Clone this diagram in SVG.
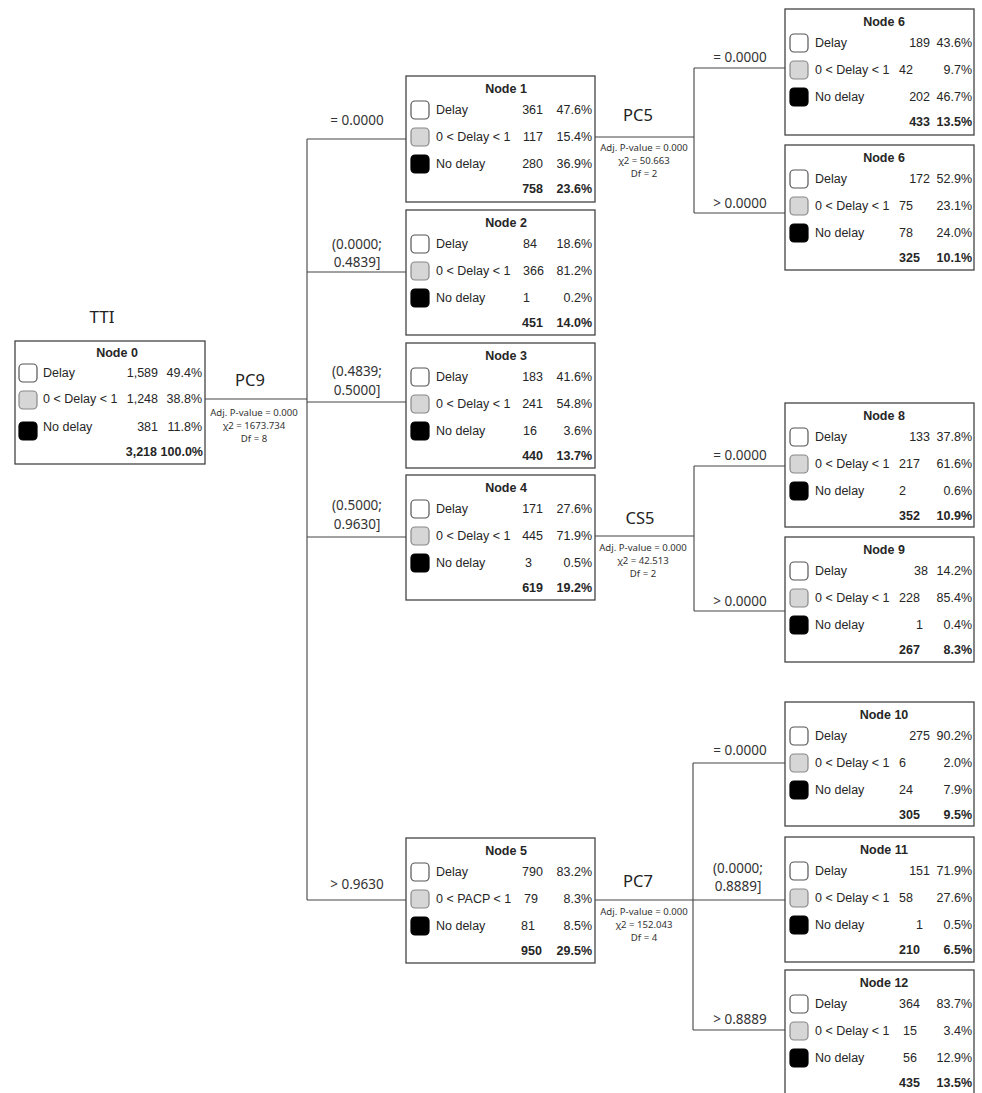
<svg xmlns="http://www.w3.org/2000/svg" width="982" height="1093" viewBox="0 0 982 1093">
<style>
.box{fill:#fff;stroke:#444;stroke-width:1.3}
.ic{stroke-width:1.2}
.w{fill:#fff;stroke:#555}
.g{fill:#d6d6d6;stroke:#888}
.b{fill:#000;stroke:#000}
text{font-family:"Liberation Sans",Arial,sans-serif;fill:#262626}
.t{font-size:12.5px}
.tb{font-size:12.5px;font-weight:bold}
.title{font-size:12.5px;font-weight:bold;text-anchor:middle}
.e{text-anchor:end}
.c{font-family:"Noto Sans","Open Sans",sans-serif;font-size:13.5px;text-anchor:middle;fill:#333}
.pc{font-family:"Noto Sans","Open Sans",sans-serif;font-size:16.5px;text-anchor:middle;fill:#222}
.adj{font-family:"Noto Sans","Open Sans",sans-serif;font-size:9.6px;text-anchor:middle;fill:#333}
.ln{fill:none;stroke:#444;stroke-width:1.1}
</style>

<g id="connectors">
<path class="ln" d="M205 399H307M307 139V900M307 139H406M307 272H406M307 402H406M307 537H406M307 900H406"/>
<path class="ln" d="M595 137H694M694 68V213M694 68H785M694 213H785"/>
<path class="ln" d="M595 536H694M694 466V611M694 466H785M694 611H785"/>
<path class="ln" d="M595 900H693M693 763V1030M693 763H785M693 900H785M693 1030H785"/>
</g>

<g id="labels">
<text class="pc" x="102" y="323" style="font-size:17px">TTI</text>
<text class="pc" x="250" y="386">PC9</text>
<text class="adj" x="254" y="416">Adj. P-value = 0.000</text>
<text class="adj" x="254" y="429">χ2 = 1673.734</text>
<text class="adj" x="254" y="442">Df = 8</text>

<text class="c" x="357" y="125">= 0.0000</text>
<text class="c" x="357" y="249">(0.0000;</text>
<text class="c" x="357" y="267">0.4839]</text>
<text class="c" x="357" y="376">(0.4839;</text>
<text class="c" x="357" y="395">0.5000]</text>
<text class="c" x="357" y="510">(0.5000;</text>
<text class="c" x="357" y="529">0.9630]</text>
<text class="c" x="357" y="889">&gt; 0.9630</text>

<text class="pc" x="638" y="121">PC5</text>
<text class="adj" x="644" y="151">Adj. P-value = 0.000</text>
<text class="adj" x="644" y="164">χ2 = 50.663</text>
<text class="adj" x="644" y="177">Df = 2</text>
<text class="c" x="740" y="62">= 0.0000</text>
<text class="c" x="740" y="208">&gt; 0.0000</text>

<text class="pc" x="640" y="524">CS5</text>
<text class="adj" x="643" y="551">Adj. P-value = 0.000</text>
<text class="adj" x="643" y="564">χ2 = 42.513</text>
<text class="adj" x="643" y="577">Df = 2</text>
<text class="c" x="740" y="460">= 0.0000</text>
<text class="c" x="740" y="606">&gt; 0.0000</text>

<text class="pc" x="638" y="887">PC7</text>
<text class="adj" x="644" y="915">Adj. P-value = 0.000</text>
<text class="adj" x="644" y="928">χ2 = 152.043</text>
<text class="adj" x="644" y="941">Df = 4</text>
<text class="c" x="740" y="755">= 0.0000</text>
<text class="c" x="738" y="873">(0.0000;</text>
<text class="c" x="738" y="891">0.8889]</text>
<text class="c" x="740" y="1024">&gt; 0.8889</text>
</g>

<g id="node0">
<rect class="box" x="15" y="341" width="190" height="123"/>
<text class="title" x="117" y="357">Node 0</text>
<rect class="ic w" x="19" y="364" width="18" height="18" rx="4"/>
<rect class="ic g" x="19" y="391" width="18" height="18" rx="4"/>
<rect class="ic b" x="19" y="422" width="18" height="18" rx="4"/>
<text class="t" x="43" y="377">Delay</text>
<text class="t" x="43" y="403">0 &lt; Delay &lt; 1</text>
<text class="t" x="43" y="431">No delay</text>
<text class="t e" x="158" y="377">1,589</text>
<text class="t e" x="158" y="403">1,248</text>
<text class="t e" x="158" y="431">381</text>
<text class="tb e" x="157" y="456">3,218</text>
<text class="t e" x="202" y="377">49.4%</text>
<text class="t e" x="202" y="403">38.8%</text>
<text class="t e" x="202" y="431">11.8%</text>
<text class="tb e" x="203" y="456">100.0%</text>
</g>

<g id="node1">
<rect class="box" x="406" y="76" width="189" height="126"/>
<text class="title" x="506" y="93">Node 1</text>
<rect class="ic w" x="411" y="101" width="18" height="18" rx="4"/>
<rect class="ic g" x="411" y="128" width="18" height="18" rx="4"/>
<rect class="ic b" x="411" y="155" width="18" height="18" rx="4"/>
<text class="t" x="436" y="114">Delay</text>
<text class="t" x="436" y="141">0 &lt; Delay &lt; 1</text>
<text class="t" x="436" y="168">No delay</text>
<text class="t e" x="543" y="114">361</text>
<text class="t e" x="543" y="141">117</text>
<text class="t e" x="543" y="168">280</text>
<text class="tb e" x="543" y="193">758</text>
<text class="t e" x="592" y="114">47.6%</text>
<text class="t e" x="592" y="141">15.4%</text>
<text class="t e" x="592" y="168">36.9%</text>
<text class="tb e" x="592" y="193">23.6%</text>
</g>

<g id="node2">
<rect class="box" x="406" y="210" width="189" height="125"/>
<text class="title" x="506" y="227">Node 2</text>
<rect class="ic w" x="411" y="235" width="18" height="18" rx="4"/>
<rect class="ic g" x="411" y="262" width="18" height="18" rx="4"/>
<rect class="ic b" x="411" y="289" width="18" height="18" rx="4"/>
<text class="t" x="436" y="248">Delay</text>
<text class="t" x="436" y="275">0 &lt; Delay &lt; 1</text>
<text class="t" x="436" y="302">No delay</text>
<text class="t" x="523" y="248">84</text>
<text class="t" x="523" y="275">366</text>
<text class="t" x="523" y="302">1</text>
<text class="tb" x="522" y="327">451</text>
<text class="t e" x="592" y="248">18.6%</text>
<text class="t e" x="592" y="275">81.2%</text>
<text class="t e" x="592" y="302">0.2%</text>
<text class="tb e" x="592" y="327">14.0%</text>
</g>

<g id="node3">
<rect class="box" x="406" y="343" width="189" height="125"/>
<text class="title" x="506" y="360">Node 3</text>
<rect class="ic w" x="411" y="368" width="18" height="18" rx="4"/>
<rect class="ic g" x="411" y="395" width="18" height="18" rx="4"/>
<rect class="ic b" x="411" y="422" width="18" height="18" rx="4"/>
<text class="t" x="436" y="381">Delay</text>
<text class="t" x="436" y="408">0 &lt; Delay &lt; 1</text>
<text class="t" x="436" y="435">No delay</text>
<text class="t e" x="543" y="381">183</text>
<text class="t e" x="543" y="408">241</text>
<text class="t" x="523" y="435">16</text>
<text class="tb e" x="543" y="460">440</text>
<text class="t e" x="592" y="381">41.6%</text>
<text class="t e" x="592" y="408">54.8%</text>
<text class="t e" x="592" y="435">3.6%</text>
<text class="tb e" x="592" y="460">13.7%</text>
</g>

<g id="node4">
<rect class="box" x="406" y="475" width="189" height="125"/>
<text class="title" x="506" y="492">Node 4</text>
<rect class="ic w" x="411" y="500" width="18" height="18" rx="4"/>
<rect class="ic g" x="411" y="527" width="18" height="18" rx="4"/>
<rect class="ic b" x="411" y="554" width="18" height="18" rx="4"/>
<text class="t" x="436" y="513">Delay</text>
<text class="t" x="436" y="540">0 &lt; Delay &lt; 1</text>
<text class="t" x="436" y="567">No delay</text>
<text class="t e" x="543" y="513">171</text>
<text class="t e" x="543" y="540">445</text>
<text class="t" x="525" y="567">3</text>
<text class="tb e" x="543" y="592">619</text>
<text class="t e" x="592" y="513">27.6%</text>
<text class="t e" x="592" y="540">71.9%</text>
<text class="t e" x="592" y="567">0.5%</text>
<text class="tb e" x="592" y="592">19.2%</text>
</g>

<g id="node5">
<rect class="box" x="406" y="838" width="189" height="125"/>
<text class="title" x="506" y="855">Node 5</text>
<rect class="ic w" x="411" y="863" width="18" height="18" rx="4"/>
<rect class="ic g" x="411" y="890" width="18" height="18" rx="4"/>
<rect class="ic b" x="411" y="917" width="18" height="18" rx="4"/>
<text class="t" x="436" y="876">Delay</text>
<text class="t" x="436" y="903">0 &lt; PACP &lt; 1</text>
<text class="t" x="436" y="930">No delay</text>
<text class="t" x="522" y="876">790</text>
<text class="t" x="524" y="903">79</text>
<text class="t" x="521" y="930">81</text>
<text class="tb" x="521" y="955">950</text>
<text class="t e" x="592" y="876">83.2%</text>
<text class="t e" x="592" y="903">8.3%</text>
<text class="t e" x="592" y="930">8.5%</text>
<text class="tb e" x="592" y="955">29.5%</text>
</g>

<g id="node6a">
<rect class="box" x="785" y="9" width="189" height="126"/>
<text class="title" x="884" y="26">Node 6</text>
<rect class="ic w" x="790" y="34" width="18" height="18" rx="4"/>
<rect class="ic g" x="790" y="61" width="18" height="18" rx="4"/>
<rect class="ic b" x="790" y="88" width="18" height="18" rx="4"/>
<text class="t" x="815" y="47">Delay</text>
<text class="t" x="815" y="74">0 &lt; Delay &lt; 1</text>
<text class="t" x="815" y="101">No delay</text>
<text class="t e" x="930" y="47">189</text>
<text class="t" x="899" y="74">42</text>
<text class="t e" x="930" y="101">202</text>
<text class="tb e" x="930" y="126">433</text>
<text class="t e" x="972" y="47">43.6%</text>
<text class="t e" x="972" y="74">9.7%</text>
<text class="t e" x="972" y="101">46.7%</text>
<text class="tb e" x="972" y="126">13.5%</text>
</g>

<g id="node6b">
<rect class="box" x="785" y="145" width="189" height="125"/>
<text class="title" x="884" y="162">Node 6</text>
<rect class="ic w" x="790" y="170" width="18" height="18" rx="4"/>
<rect class="ic g" x="790" y="197" width="18" height="18" rx="4"/>
<rect class="ic b" x="790" y="224" width="18" height="18" rx="4"/>
<text class="t" x="815" y="183">Delay</text>
<text class="t" x="815" y="210">0 &lt; Delay &lt; 1</text>
<text class="t" x="815" y="237">No delay</text>
<text class="t e" x="930" y="183">172</text>
<text class="t" x="899" y="210">75</text>
<text class="t" x="899" y="237">78</text>
<text class="tb" x="899" y="262">325</text>
<text class="t e" x="972" y="183">52.9%</text>
<text class="t e" x="972" y="210">23.1%</text>
<text class="t e" x="972" y="237">24.0%</text>
<text class="tb e" x="972" y="262">10.1%</text>
</g>

<g id="node8">
<rect class="box" x="785" y="403" width="189" height="124"/>
<text class="title" x="884" y="420">Node 8</text>
<rect class="ic w" x="790" y="428" width="18" height="18" rx="4"/>
<rect class="ic g" x="790" y="455" width="18" height="18" rx="4"/>
<rect class="ic b" x="790" y="482" width="18" height="18" rx="4"/>
<text class="t" x="815" y="441">Delay</text>
<text class="t" x="815" y="468">0 &lt; Delay &lt; 1</text>
<text class="t" x="815" y="495">No delay</text>
<text class="t e" x="930" y="441">133</text>
<text class="t" x="899" y="468">217</text>
<text class="t" x="899" y="495">2</text>
<text class="tb" x="899" y="520">352</text>
<text class="t e" x="972" y="441">37.8%</text>
<text class="t e" x="972" y="468">61.6%</text>
<text class="t e" x="972" y="495">0.6%</text>
<text class="tb e" x="972" y="520">10.9%</text>
</g>

<g id="node9">
<rect class="box" x="785" y="537" width="189" height="125"/>
<text class="title" x="884" y="554">Node 9</text>
<rect class="ic w" x="790" y="562" width="18" height="18" rx="4"/>
<rect class="ic g" x="790" y="589" width="18" height="18" rx="4"/>
<rect class="ic b" x="790" y="616" width="18" height="18" rx="4"/>
<text class="t" x="815" y="575">Delay</text>
<text class="t" x="815" y="602">0 &lt; Delay &lt; 1</text>
<text class="t" x="815" y="629">No delay</text>
<text class="t e" x="928" y="575">38</text>
<text class="t" x="899" y="602">228</text>
<text class="t e" x="923" y="629">1</text>
<text class="tb" x="899" y="654">267</text>
<text class="t e" x="972" y="575">14.2%</text>
<text class="t e" x="972" y="602">85.4%</text>
<text class="t e" x="972" y="629">0.4%</text>
<text class="tb e" x="972" y="654">8.3%</text>
</g>

<g id="node10">
<rect class="box" x="785" y="702" width="189" height="124"/>
<text class="title" x="884" y="719">Node 10</text>
<rect class="ic w" x="790" y="727" width="18" height="18" rx="4"/>
<rect class="ic g" x="790" y="754" width="18" height="18" rx="4"/>
<rect class="ic b" x="790" y="781" width="18" height="18" rx="4"/>
<text class="t" x="815" y="740">Delay</text>
<text class="t" x="815" y="767">0 &lt; Delay &lt; 1</text>
<text class="t" x="815" y="794">No delay</text>
<text class="t e" x="930" y="740">275</text>
<text class="t" x="899" y="767">6</text>
<text class="t" x="899" y="794">24</text>
<text class="tb" x="899" y="819">305</text>
<text class="t e" x="972" y="740">90.2%</text>
<text class="t e" x="972" y="767">2.0%</text>
<text class="t e" x="972" y="794">7.9%</text>
<text class="tb e" x="972" y="819">9.5%</text>
</g>

<g id="node11">
<rect class="box" x="785" y="837" width="189" height="125"/>
<text class="title" x="884" y="854">Node 11</text>
<rect class="ic w" x="790" y="862" width="18" height="18" rx="4"/>
<rect class="ic g" x="790" y="889" width="18" height="18" rx="4"/>
<rect class="ic b" x="790" y="916" width="18" height="18" rx="4"/>
<text class="t" x="815" y="875">Delay</text>
<text class="t" x="815" y="902">0 &lt; Delay &lt; 1</text>
<text class="t" x="815" y="929">No delay</text>
<text class="t e" x="930" y="875">151</text>
<text class="t" x="899" y="902">58</text>
<text class="t e" x="923" y="929">1</text>
<text class="tb" x="899" y="954">210</text>
<text class="t e" x="972" y="875">71.9%</text>
<text class="t e" x="972" y="902">27.6%</text>
<text class="t e" x="972" y="929">0.5%</text>
<text class="tb e" x="972" y="954">6.5%</text>
</g>

<g id="node12">
<rect class="box" x="785" y="970" width="189" height="130"/>
<text class="title" x="884" y="987">Node 12</text>
<rect class="ic w" x="790" y="995" width="18" height="18" rx="4"/>
<rect class="ic g" x="790" y="1022" width="18" height="18" rx="4"/>
<rect class="ic b" x="790" y="1049" width="18" height="18" rx="4"/>
<text class="t" x="815" y="1008">Delay</text>
<text class="t" x="815" y="1035">0 &lt; Delay &lt; 1</text>
<text class="t" x="815" y="1062">No delay</text>
<text class="t" x="899" y="1008">364</text>
<text class="t" x="903" y="1035">15</text>
<text class="t" x="903" y="1062">56</text>
<text class="tb" x="899" y="1087">435</text>
<text class="t e" x="972" y="1008">83.7%</text>
<text class="t e" x="972" y="1035">3.4%</text>
<text class="t e" x="972" y="1062">12.9%</text>
<text class="tb e" x="972" y="1087">13.5%</text>
</g>
</svg>
